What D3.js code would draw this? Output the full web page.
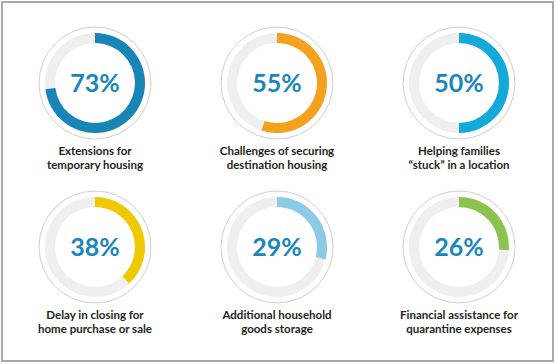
<!DOCTYPE html>
<html>
<head>
	<script type="text/javascript" src="https://cdn.jsdelivr.net/npm/d3@7"></script>
	<style>
		body { margin: 0; background: #fff; }
	</style>
</head>
<body>
	<script type="text/javascript">

		// data
		var labels = [
			["Extensions for", "temporary housing"],
			["Challenges of securing", "destination housing"],
			["Helping families", "\u201cstuck\u201d in a location"],
			["Delay in closing for", "home purchase or sale"],
			["Additional household", "goods storage"],
			["Financial assistance for", "quarantine expenses"]
		];
		var values = [73, 55, 50, 38, 29, 26];
		var palette = ["#1785b6", "#f4a11e", "#13a9d9", "#f0c800", "#8ccbe7", "#8bc34f"];

		var width = 556, height = 364;

		var svg = d3.select('body')
			.append('svg')
			.attr('width', width)
			.attr('height', height);

		// frame
		svg.append('rect')
			.attr('x', 2)
			.attr('y', 2)
			.attr('width', 551)
			.attr('height', 359)
			.attr('fill', 'none')
			.attr('stroke', '#a9a9a9')
			.attr('stroke-width', 2);

		// scales
		var xScale = d3.scalePoint()
			.domain([0, 1, 2])
			.range([95, 459]);

		var yScale = d3.scalePoint()
			.domain([0, 1])
			.range([83, 247]);

		var angle = d3.scaleLinear()
			.domain([0, 100])
			.range([0, 2 * Math.PI]);

		var color = d3.scaleOrdinal()
			.domain(d3.range(values.length))
			.range(palette);

		var arc = d3.arc()
			.innerRadius(40)
			.outerRadius(50)
			.startAngle(0);

		var cells = svg.selectAll('g.cell')
			.data(values)
			.enter()
			.append('g')
			.attr('class', 'cell')
			.attr('transform', function(d, i) {
				return 'translate(' + xScale(i % 3) + ',' + yScale(Math.floor(i / 3)) + ')';
			});

		// outer thin circle
		cells.append('circle')
			.attr('r', 56)
			.attr('fill', '#fff')
			.attr('stroke', '#cfcfcf')
			.attr('stroke-width', 1);

		// grey track
		cells.append('path')
			.attr('d', arc.endAngle(2 * Math.PI)())
			.attr('fill', '#efefef');

		// value arc
		cells.append('path')
			.attr('d', function(d) {
				return arc.endAngle(angle(d))();
			})
			.attr('fill', function(d, i) { return color(i); });

		// percent
		cells.append('text')
			.attr('text-anchor', 'middle')
			.attr('y', 9)
			.attr('font-family', 'Lato, sans-serif')
			.attr('font-weight', 700)
			.attr('font-size', 25)
			.attr('fill', '#1a86bb')
			.text(function(d) { return d + '%'; });

		// labels, one text per line
		cells.each(function(d, i) {
			d3.select(this).selectAll('text.label')
				.data(labels[i])
				.enter()
				.append('text')
				.attr('class', 'label')
				.attr('text-anchor', 'middle')
				.attr('y', function(t, j) { return 72 + j * 13.5; })
				.attr('font-family', 'Lato, sans-serif')
				.attr('font-weight', 700)
				.attr('font-size', 11.5)
				.attr('fill', '#231f20')
				.text(function(t) { return t; });
		});

	</script>
</body>
</html>
